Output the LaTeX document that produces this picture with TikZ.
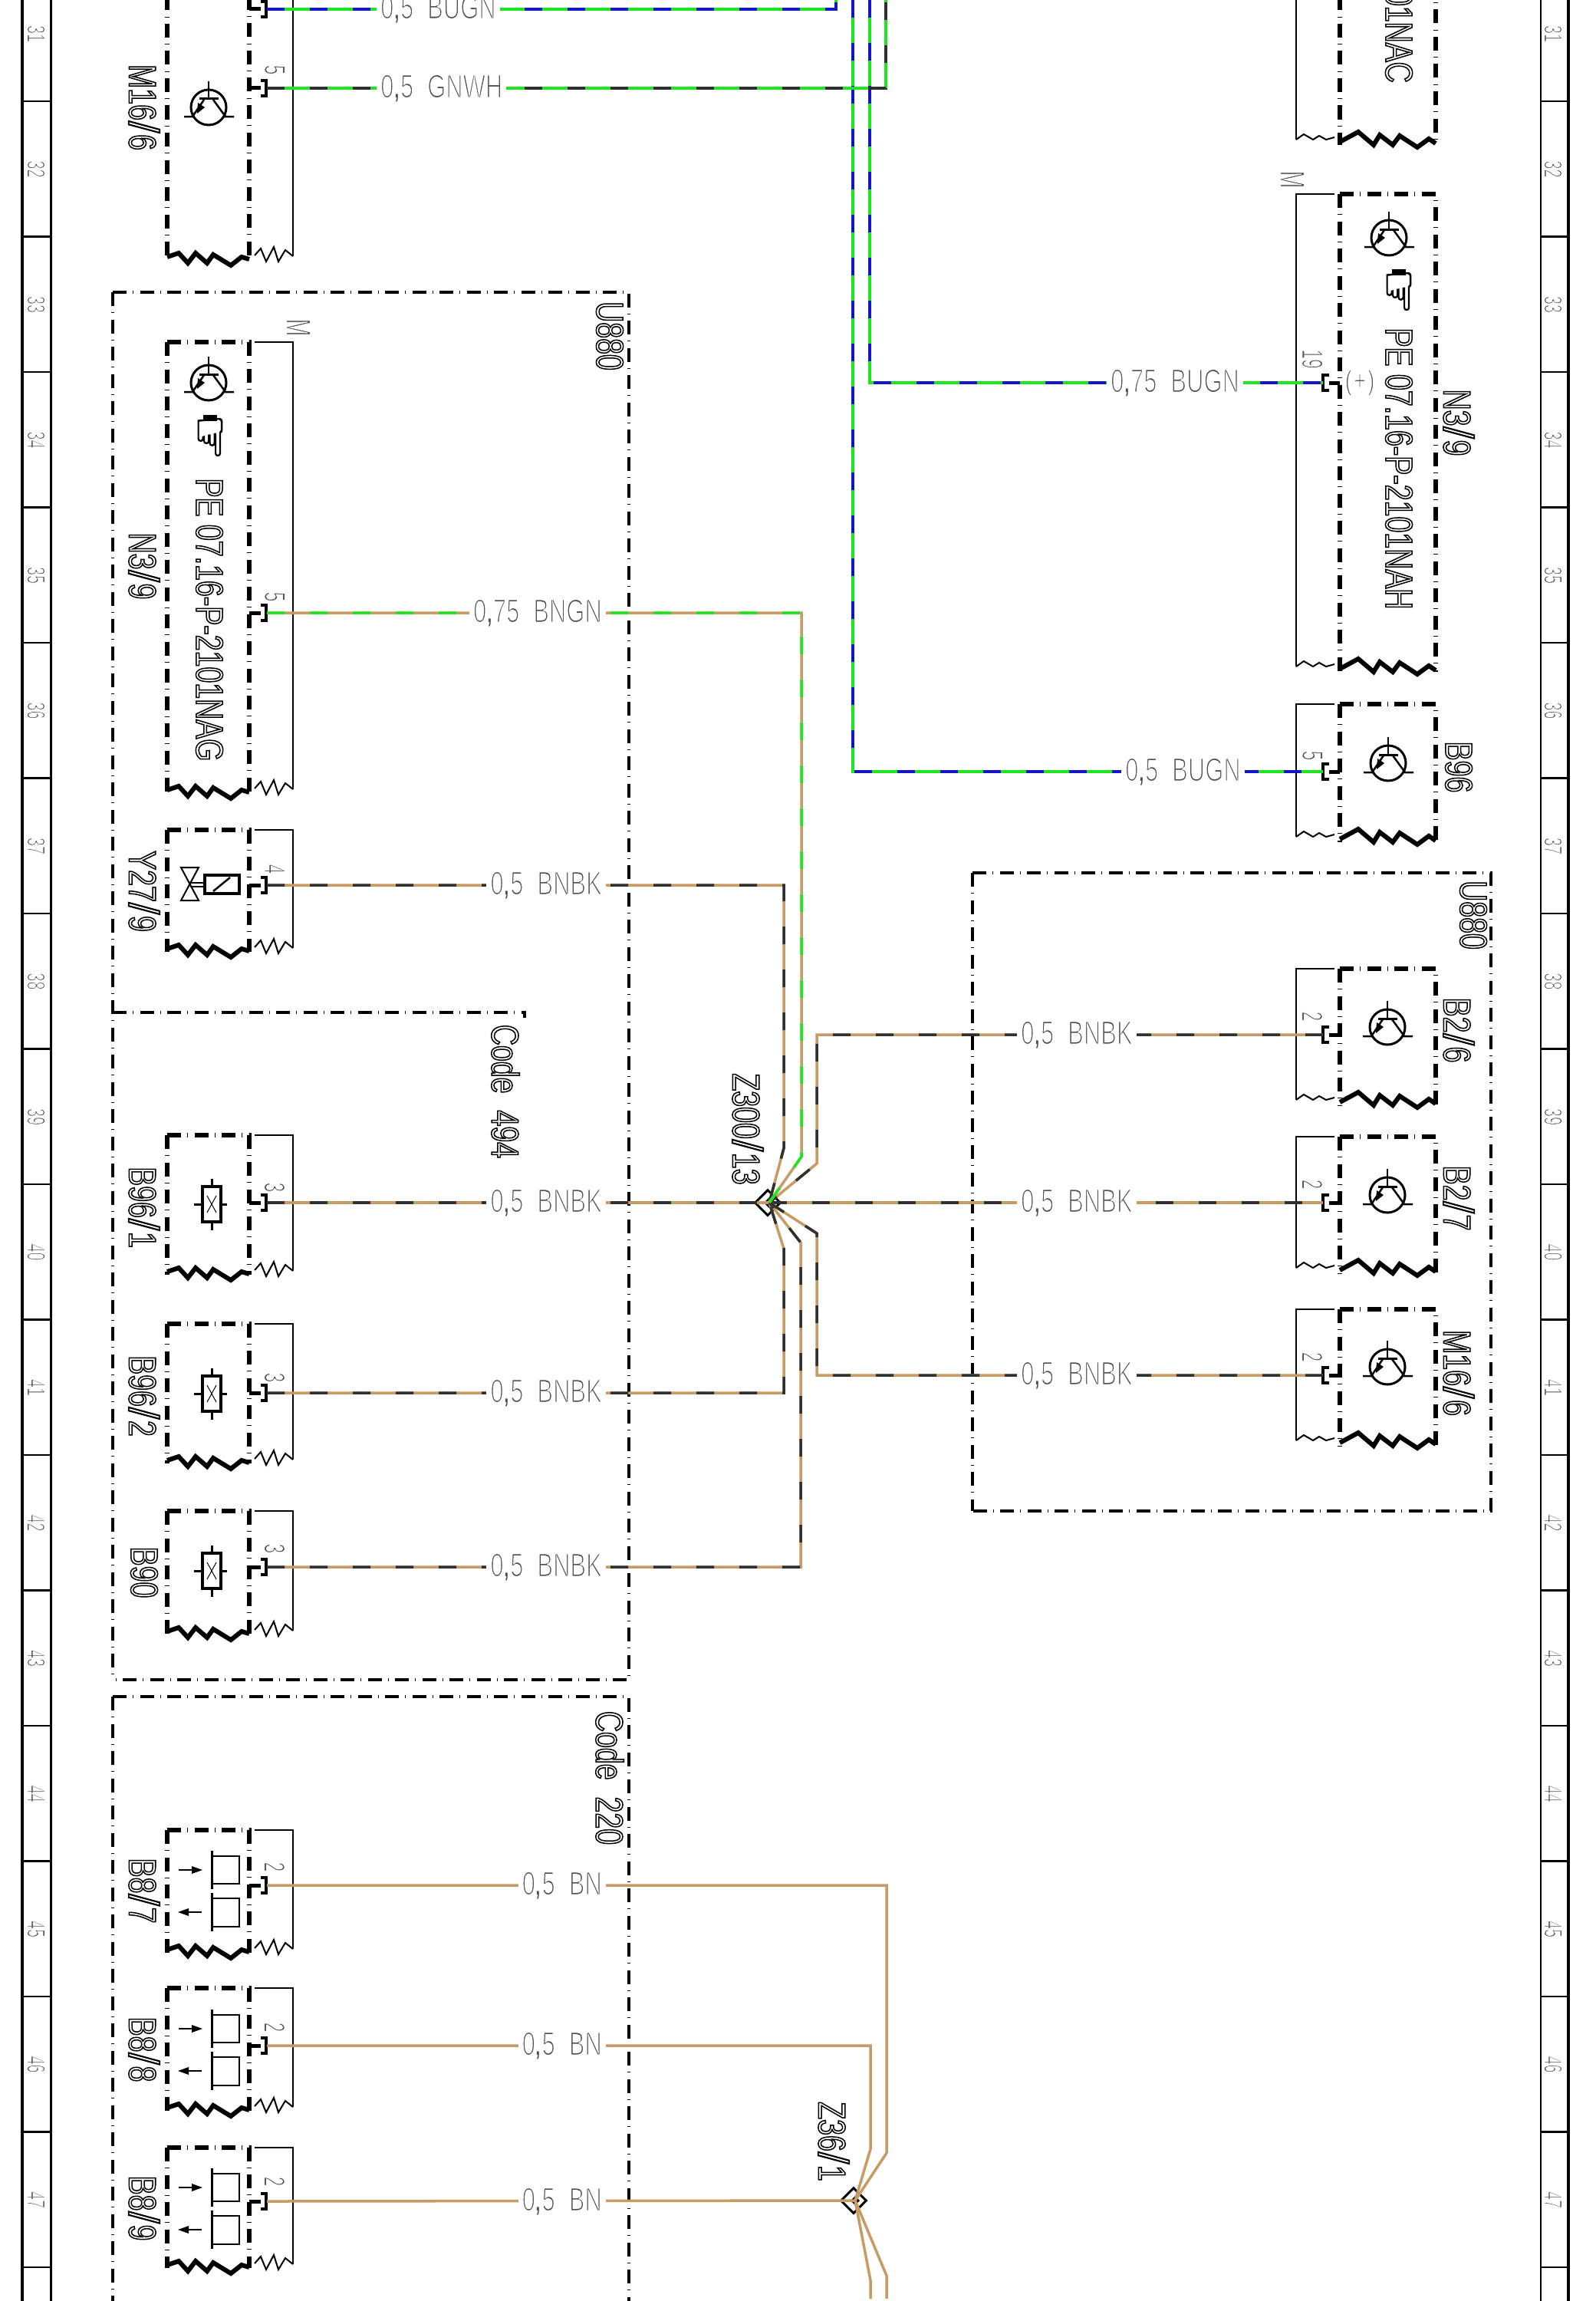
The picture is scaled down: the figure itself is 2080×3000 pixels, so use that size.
\documentclass[tikz,border=0pt]{standalone}
\usepackage{fontspec}
\usepackage{graphicx}
\usetikzlibrary{shapes.geometric}
\setmainfont{Liberation Sans}
\newfontfamily\fwire[FakeStretch=0.72]{Liberation Sans}
\newfontfamily\fpin[FakeStretch=0.6]{Liberation Sans}
\newfontfamily\flab[FakeStretch=0.75]{Liberation Sans}
\newfontfamily\fsym{DejaVu Sans}
\definecolor{grn}{HTML}{1EE61E}
\definecolor{blu}{HTML}{1414C8}
\definecolor{brn}{HTML}{C89B64}
\definecolor{blk}{HTML}{303030}
\definecolor{txtg}{HTML}{505050}
\newcommand\hollow[2]{\special{pdf:code q 1 Tr #1 w}#2\special{pdf:code Q}}
\newcommand\erode[2]{\special{pdf:code q 2 Tr #1 w 1 1 1 RG}#2\special{pdf:code Q}}
\newcommand\fatten[2]{\special{pdf:code q 2 Tr #1 w}#2\special{pdf:code Q}}
\newcommand\wl[2]{\erode{1.4}{#1\hspace{18pt}#2}}
\newcommand\cmm{\special{pdf:code 0 Tr},\special{pdf:code 2 Tr}}
\newcommand\lb[1]{\hollow{1.5}{#1}}
\newcommand\nm[1]{\erode{0.9}{#1}}
\newcommand\slsh{\kern1pt\scalebox{1.45}[1.1]{/}\kern2pt}
\tikzset{
  wirex/.style 2 args={line width=3.5,draw=#1,line join=miter,postaction={draw=#2,dash pattern=on 23 off 33}},
  wirep/.style={line width=3.5,draw=#1,line join=miter},
  wlab/.style={fill=white,inner xsep=5,inner ysep=0,text=txtg,font=\fwire\fontsize{43}{43}\selectfont},
  rowlab/.style={rotate=-90,inner sep=0,text=txtg,font=\fpin\fontsize{33}{33}\selectfont},
  pinlab/.style={rotate=-90,inner sep=0,text=txtg,font=\fpin\fontsize{38}{38}\selectfont},
  mlab/.style={rotate=-90,inner sep=0,text=txtg,font=\fpin\fontsize{45}{45}\selectfont},
  pluslab/.style={inner sep=0,text=txtg,font=\fwire\fontsize{36}{36}\selectfont},
  clab/.style={rotate=-90,inner sep=0,text=black,font=\flab\fontsize{50}{50}\selectfont},
  compdash/.style={line width=6,dash pattern=on 18 off 8.25 on 1 off 8.25},
  framedash/.style={line width=4.5,dash pattern=on 18 off 8.25 on 1 off 8.25},
  outer/.style={line width=2.5,line join=miter},
  zig/.style={line width=6,line join=miter},
  zigthin/.style={line width=2,line join=miter},
  sym/.style={line width=2.5,line join=miter},
  diam/.style={diamond,draw=black,line width=3,inner sep=0,minimum width=#1,minimum height=#1,aspect=1},
}
% left component: top, bottom
\newcommand\lcomp[2]{%
  \draw[compdash] (218,#1) -- (218,#2+4);
  \draw[compdash] (218,#1) -- (325,#1) -- (325,#2+4);
  \draw[zig] (218,#2) -- ++(15,-5) -- ++(12,13) -- ++(10,-13) -- ++(15,13) -- ++(8,-11) -- ++(23,14) -- ++(14,-11) -- ++(10,3);
  \draw[outer] (332,#1) -- (382,#1) -- (382,#2-1);
  \draw[zigthin] (382,#2-1) -- ++(-10,-8) -- ++(-9,15) -- ++(-6,-19) -- ++(-10,19) -- ++(-7,-17) -- ++(-8,9);
}
% right component: top, bottom
\newcommand\rcomp[2]{%
  \draw[compdash] (1747,#1) -- (1747,#2+4);
  \draw[compdash] (1747,#1) -- (1872,#1) -- (1872,#2+4);
  \draw[zig] (1747,#2) -- ++(24,-13) -- ++(20,17) -- ++(8,-13) -- ++(17,13) -- ++(9,-12) -- ++(23,15) -- ++(15,-11) -- ++(9,6);
  \draw[outer] (1740,#1) -- (1690,#1) -- (1690,#2-3);
  \draw[zigthin] (1690,#2-3) -- ++(10,-7) -- ++(12,7) -- ++(8,-5) -- ++(9,5) -- ++(11,-3);
}
% pins: name, y
\newcommand\lpin[2]{%
  \draw[line width=5] (325,#2) -- (340,#2);
  \draw[line width=3.5] (340,#2-10) -- (347,#2-10) -- (347,#2+10) -- (340,#2+10);
  \coordinate (#1) at (348,#2);
}
\newcommand\rpin[2]{%
  \draw[line width=5] (1747,#2) -- (1733,#2);
  \draw[line width=3.5] (1733,#2-10) -- (1725,#2-10) -- (1725,#2+10) -- (1733,#2+10);
  \coordinate (#1) at (1725,#2);
}
\newcommand\trans[2]{%
  \begin{scope}[shift={(#1,#2)}]
    \draw[line width=3] (0,0) circle (23);
    \draw[sym] (0,-34) -- (0,-12);
    \draw[line width=3] (-12,-11) -- (13,-11);
    \draw[sym] (-6,-10) -- (-21,12) -- (-32,12);
    \draw[sym] (6,-10) -- (22,12) -- (33,12);
    \fill (-15,8) -- (-14,-6) -- (-5,0) -- cycle;
  \end{scope}
}
\newcommand\hand[2]{%
  \node[inner sep=0,font=\fsym\fontsize{68}{68}\selectfont] at (#1,#2) {\fatten{1}{☟}};
  \fill (#1-9,#2-29) rectangle (#1+9,#2-21);
}
\newcommand\resist[2]{%
  \begin{scope}[shift={(#1,#2)}]
    \draw[line width=3.5] (-12,-23) rectangle (12,23);
    \draw[line width=1] (-6,-11) -- (6,11) (6,-11) -- (-6,11);
    \draw[line width=3] (0,-33) -- (0,-23) (0,23) -- (0,34) (-23,0) -- (-12,0) (12,0) -- (20,0);
  \end{scope}
}
\newcommand\hall[1]{%
  \begin{scope}[shift={(0,#1)}]
    \draw[line width=3] (276,-45) -- (276,5) (276,10) -- (276,60);
    \draw[line width=2.5] (276,-38) -- (312,-38) -- (312,-2) -- (276,-2);
    \draw[line width=2.5] (276,17) -- (312,17) -- (312,54) -- (276,54);
    \draw[line width=2.5] (233,-20) -- (252,-20);
    \fill (264,-20) -- (250,-25) -- (250,-15) -- cycle;
    \draw[line width=2.5] (244,35) -- (263,35);
    \fill (232,35) -- (246,30) -- (246,40) -- cycle;
  \end{scope}
}
\begin{document}
\begin{tikzpicture}[x=1pt,y=-1pt]
\useasboundingbox (0,0) rectangle (2080,3000);
\fill[white] (0,0) rectangle (2080,3000);
% row strips
\draw[line width=3.5] (29,0) -- (29,3000);
\draw[line width=3] (66,0) -- (66,3000);
\draw[line width=2.5] (2009,0) -- (2009,3000);
\draw[line width=3.5] (2045,0) -- (2045,3000);
\foreach \i in {0,...,16}{
  \draw[line width=2.5] (29,132+176.5*\i) -- (66,132+176.5*\i);
  \draw[line width=2.5] (2009,132+176.5*\i) -- (2045,132+176.5*\i);
}
\foreach \n [count=\i from 0] in {31,...,47}{
  \node[rowlab] (rl\n) at (47,44+176.5*\i) {\nm{\n}};
  \node[rowlab] (rr\n) at (2025,44+176.5*\i) {\nm{\n}};
}
% frames
\draw[framedash] (147,381) -- (147,2190);
\draw[framedash] (147,381) -- (820,381) -- (820,2190) -- (147,2190);
\draw[framedash] (147,1320) -- (684,1320) -- (684,1327);
\draw[framedash] (147,2212) -- (147,3000);
\draw[framedash] (147,2212) -- (820,2212) -- (820,3000);
\draw[framedash] (1268,1138) -- (1268,1970);
\draw[framedash] (1268,1138) -- (1944,1138) -- (1944,1970) -- (1268,1970);
\node[clab] (u1) at (795,438) {\lb{U880}};
\node[clab] (u2) at (1921,1193) {\lb{U880}};
\node[clab] (c494) at (659,1423) {\lb{Code\hspace{22pt}494}};
\node[clab] (c220) at (795,2318) {\lb{Code\hspace{22pt}220}};
% left components
\lcomp{-40}{335}
\lcomp{446}{1030}
\lcomp{1082}{1237}
\lcomp{1480}{1658}
\lcomp{1726}{1904}
\lcomp{1970}{2127}
\lcomp{2386}{2542}
\lcomp{2592}{2748}
\lcomp{2800}{2953}
% right components
\rcomp{-40}{185}
\rcomp{253}{872}
\rcomp{918}{1094}
\rcomp{1263}{1437}
\rcomp{1482}{1656}
\rcomp{1707}{1881}
% pins
\lpin{pMa}{12}
\lpin{pMb}{115}
\lpin{pN}{799}
\lpin{pY}{1154}
\lpin{pBa}{1568}
\lpin{pBb}{1816}
\lpin{pBc}{2043}
\lpin{pHa}{2458}
\lpin{pHb}{2667}
\lpin{pHc}{2870}
\rpin{qN}{499}
\rpin{qB}{1006}
\rpin{qC}{1349}
\rpin{qD}{1568}
\rpin{qE}{1793}
% pin numbers
\node[pinlab] (n1) at (358,91) {\nm{5}};
\node[pinlab] (n2) at (358,778) {\nm{5}};
\node[pinlab] (n3) at (358,1133) {\nm{4}};
\node[pinlab] (n4) at (358,1548) {\nm{3}};
\node[pinlab] (n5) at (358,1796) {\nm{3}};
\node[pinlab] (n6) at (358,2019) {\nm{3}};
\node[pinlab] (n7) at (358,2434) {\nm{2}};
\node[pinlab] (n8) at (358,2643) {\nm{2}};
\node[pinlab] (n9) at (358,2844) {\nm{2}};
\node[pinlab] (n10) at (1711,468) {\nm{19}};
\node[pinlab] (n11) at (1711,985) {\nm{5}};
\node[pinlab] (n12) at (1711,1325) {\nm{2}};
\node[pinlab] (n13) at (1711,1544) {\nm{2}};
\node[pinlab] (n14) at (1711,1769) {\nm{2}};
\node[mlab] (mL) at (389,427) {\nm{M}};
\node[mlab] (mR) at (1685,234) {\nm{M}};
\node[pluslab] (plus) at (1773,499) {\erode{0.9}{(\kern3pt+\kern3pt)}};
% symbols
\trans{272}{140}
\trans{272}{499}
\trans{1811}{310}
\trans{1810}{995}
\trans{1809}{1339}
\trans{1809}{1558}
\trans{1809}{1782}
\hand{274}{570}
\hand{1824}{380}
% valve
\draw[line width=2] (236,1131) -- (259,1131) -- (236,1174) -- (259,1174) -- cycle;
\draw[line width=2.5] (248,1151) -- (267,1151) (248,1156) -- (267,1156);
\draw[line width=4] (267,1141) rectangle (312,1165);
\draw[line width=2.5] (278,1162) -- (300,1144);
\resist{276}{1570}
\resist{276}{1817}
\resist{276}{2048}
\hall{2458}
\hall{2665}
\hall{2872}
% component labels
\node[clab] (lM) at (188,140) {\lb{M16\slsh 6}};
\node[clab] (lN) at (188,738) {\lb{N3\slsh 9}};
\node[clab] (lPE) at (273,808) {\lb{PE 07.16-P-2101NAG}};
\node[clab] (lY) at (188,1162) {\lb{Y27\slsh 9}};
\node[clab] (lBa) at (188,1574) {\lb{B96\slsh 1}};
\node[clab] (lBb) at (188,1820) {\lb{B96\slsh 2}};
\node[clab] (lBc) at (188,2050) {\lb{B90}};
\node[clab] (lHa) at (188,2465) {\lb{B8\slsh 7}};
\node[clab] (lHb) at (188,2672) {\lb{B8\slsh 8}};
\node[clab] (lHc) at (188,2879) {\lb{B8\slsh 9}};
\node[clab,anchor=east] (rPEa) at (1824,108) {\lb{01NAC}};
\node[clab] (rPE) at (1824,611) {\lb{PE 07.16-P-2101NAH}};
\node[clab] (rN) at (1902,551) {\lb{N3\slsh 9}};
\node[clab] (rB) at (1902,1000) {\lb{B96}};
\node[clab] (rC) at (1902,1343) {\lb{B2\slsh 6}};
\node[clab] (rD) at (1902,1562) {\lb{B2\slsh 7}};
\node[clab] (rE) at (1902,1790) {\lb{M16\slsh 6}};
\node[clab] (lZa) at (975,1472) {\lb{Z300\slsh 13}};
\node[clab] (lZb) at (1087,2792) {\lb{Z36\slsh 1}};
% junctions
\node[diam=34] (Za) at (1001,1568) {};
\node[diam=11] (Zai) at (1003,1568) {};
\node[diam=34] (Zb) at (1113,2869) {};
\node[diam=9] (Zbi) at (1115,2869) {};
% free ends and bends
\coordinate (tA) at (1090,0);
\coordinate (tB) at (1155,0);
\coordinate (tC) at (1112,0);
\coordinate (tD) at (1134,0);
\coordinate (kN) at (1045,1508);
\coordinate (kY) at (1022,1497);
\coordinate (kC) at (1065,1517);
\coordinate (kBb) at (1022,1628);
\coordinate (kBc) at (1044,1620);
\coordinate (kE) at (1065,1608);
\coordinate (kHa) at (1156,2807);
\coordinate (kHb) at (1135,2802);
\coordinate (kHaa) at (1156,2967);
\coordinate (kHba) at (1135,2973);
\coordinate (eHa) at (1156,2997);
\coordinate (eHb) at (1135,2997);
% wires
\draw[wirex={grn}{blu}] (pMa) -| (tA);
\draw[wirex={grn}{blu}] (tC) |- (qB);
\draw[wirex={grn}{blu}] (tD) |- (qN);
\draw[wirex={grn}{blk}] (pMb) -| (tB);
\draw[wirex={brn}{blk}] (pY) -| (kY) -- (Zai.center);
\draw[wirex={brn}{blk}] (qC) -| (kC) -- (Zai.center);
\draw[wirex={brn}{blk}] (pBa) -- (Zai.center);
\draw[wirex={brn}{blk}] (Zai.center) -- (qD);
\draw[wirex={brn}{blk}] (pBb) -| (kBb) -- (Zai.center);
\draw[wirex={brn}{blk}] (pBc) -| (kBc) -- (Zai.center);
\draw[wirex={brn}{blk}] (qE) -| (kE) -- (Zai.center);
\draw[wirex={brn}{grn}] (pN) -| (kN) -- (Zai.center);
\draw[wirep=brn] (pHa) -| (kHa) -- (Zbi.center) -- (kHaa) -- (eHa);
\draw[wirep=brn] (pHb) -| (kHb) -- (Zbi.center) -- (kHba) -- (eHb);
\draw[wirep=brn] (pHc) -- (Zbi.center);
% wire labels
\node[wlab,anchor=west] (wa) at (491,12) {\wl{0\cmm5}{BUGN}};
\node[wlab,anchor=west] (wb) at (491,115) {\wl{0\cmm5}{GNWH}};
\node[wlab,anchor=west] (wc) at (1443,499) {\wl{0\cmm75}{BUGN}};
\node[wlab,anchor=west] (wd) at (1462,1006) {\wl{0\cmm5}{BUGN}};
\node[wlab,anchor=east] (we) at (790,799) {\wl{0\cmm75}{BNGN}};
\node[wlab,anchor=east] (wf) at (790,1154) {\wl{0\cmm5}{BNBK}};
\node[wlab,anchor=east] (wg) at (790,1568) {\wl{0\cmm5}{BNBK}};
\node[wlab,anchor=east] (wh) at (790,1816) {\wl{0\cmm5}{BNBK}};
\node[wlab,anchor=east] (wi) at (790,2043) {\wl{0\cmm5}{BNBK}};
\node[wlab,anchor=west] (wj) at (1326,1349) {\wl{0\cmm5}{BNBK}};
\node[wlab,anchor=west] (wk) at (1326,1568) {\wl{0\cmm5}{BNBK}};
\node[wlab,anchor=west] (wl) at (1326,1793) {\wl{0\cmm5}{BNBK}};
\node[wlab,anchor=east] (wm) at (790,2458) {\wl{0\cmm5}{BN}};
\node[wlab,anchor=east] (wn) at (790,2667) {\wl{0\cmm5}{BN}};
\node[wlab,anchor=east] (wo) at (790,2870) {\wl{0\cmm5}{BN}};
\end{tikzpicture}
\end{document}
